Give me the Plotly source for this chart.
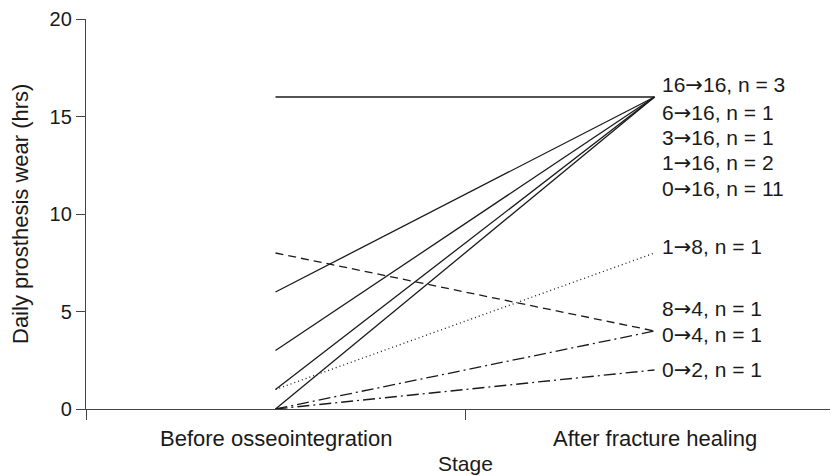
import plotly.graph_objects as go

stages = ["Before osseointegration", "After fracture healing"]
before = [16, 6, 3, 1, 0, 1, 8, 0, 0]
after = [16, 16, 16, 16, 16, 8, 4, 4, 2]
counts = [3, 1, 1, 2, 11, 1, 1, 1, 1]
dashes = ["solid", "solid", "solid", "solid", "solid", "dot", "dash", "dashdot", "dashdot"]
y_ticks = [0, 5, 10, 15, 20]

# label vertical placement (layout) for each group
label_y = [16.6, 15.2, 13.9, 12.6, 11.3, 8.3, 5.15, 3.8, 2.0]

dash_styles = {"solid": "solid", "dot": "1px,3px", "dash": "8px,5px",
               "dashdot": "12px,4px,2px,4px"}

INK = "#1a1a1a"
ARROW = "<span style='font-family:DejaVu Sans'>\u2192</span>"

xpos = [0.5, 1.5]
fig = go.Figure()
for b, a, d in zip(before, after, dashes):
    fig.add_trace(go.Scatter(x=xpos, y=[b, a], mode="lines",
                             line=dict(color=INK, width=1.3, dash=dash_styles[d]),
                             showlegend=False, hoverinfo="skip"))

for b, a, n, ly in zip(before, after, counts, label_y):
    fig.add_annotation(x=1.5, y=ly, text=f"{b}{ARROW}{a}, n = {n}", showarrow=False,
                       xanchor="left", yanchor="middle", xshift=5,
                       font=dict(size=21, color=INK))

for i, s in enumerate(stages):
    fig.add_annotation(x=xpos[i], y=0, text=s, showarrow=False,
                       yanchor="middle", yshift=-29, font=dict(size=22, color=INK))

fig.add_annotation(x=1.0, y=0, text="Stage", showarrow=False,
                   yanchor="middle", yshift=-54, font=dict(size=21, color=INK))
fig.add_annotation(xref="paper", x=0, yref="paper", y=0.5, text="Daily prosthesis wear (hrs)",
                   textangle=-90, showarrow=False, xanchor="center", yanchor="middle",
                   xshift=-66, font=dict(size=22, color=INK))

# page body has an 8px margin, so the figure is drawn 8px smaller with offsets
fig.update_layout(
    width=830, height=468,
    margin=dict(l=78, r=0, t=11, b=67, autoexpand=False),
    plot_bgcolor="white", paper_bgcolor="white",
    font=dict(family="Liberation Sans, Arial, sans-serif", size=18, color=INK),
    xaxis=dict(range=[0, 752/379], showgrid=False, zeroline=False,
               showline=True, linecolor="#444", linewidth=1.3,
               tickvals=[0, 1], ticktext=["", ""], ticks="outside", ticklen=10,
               tickcolor="#444", automargin=False),
    yaxis=dict(range=[0, 20], tickvals=y_ticks, showgrid=False, zeroline=False,
               showline=True, linecolor="#444", linewidth=1.3,
               ticks="outside", ticklen=9, tickcolor="#444", automargin=False,
               tickfont=dict(size=20)),
)
fig.write_html("out.html")
